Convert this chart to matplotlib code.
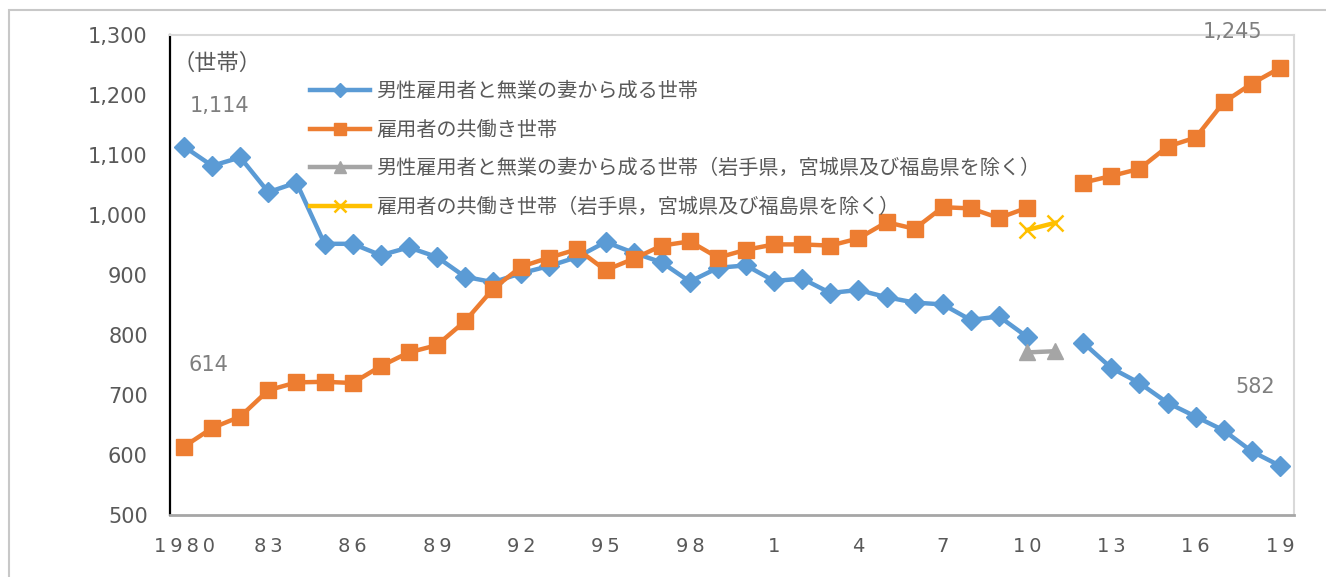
import numpy as np
import matplotlib
matplotlib.use("Agg")
import matplotlib.pyplot as plt
from matplotlib.patches import Rectangle
from matplotlib.ticker import FuncFormatter

plt.rcParams['font.family'] = ['Noto Sans CJK JP', 'DejaVu Sans']

years = list(range(1980, 2020))
nan = np.nan

# 男性雇用者と無業の妻から成る世帯
single_income = [1114, 1082, 1096, 1038, 1054, 952, 952, 933, 946, 930,
                 897, 888, 903, 915, 930, 955, 937, 921, 889, 912,
                 916, 890, 894, 870, 875, 863, 854, 851, 825, 831,
                 797, nan, 787, 745, 720, 687, 664, 641, 606, 582]
# 雇用者の共働き世帯
dual_income = [614, 645, 664, 708, 721, 722, 720, 748, 771, 783,
               823, 877, 914, 929, 943, 908, 927, 949, 956, 929,
               942, 951, 951, 949, 961, 988, 977, 1013, 1011, 995,
               1012, nan, 1054, 1065, 1077, 1114, 1129, 1188, 1219, 1245]
# excluding Iwate, Miyagi, Fukushima (2010, 2011)
excl_years = [2010, 2011]
single_excl = [771, 773]
dual_excl = [975, 987]

legend_labels = [
    "男性雇用者と無業の妻から成る世帯",
    "雇用者の共働き世帯",
    "男性雇用者と無業の妻から成る世帯（岩手県，宮城県及び福島県を除く）",
    "雇用者の共働き世帯（岩手県，宮城県及び福島県を除く）",
]

tick_years = years[::3]


def short_year(y):
    s = "1980" if y == 1980 else str(y % 100)
    return "\u2009".join(s)


W, H = 1326, 577
fig = plt.figure(figsize=(W / 100, H / 100), dpi=100)
fig.patches.append(Rectangle((9 / W, -0.05), 1.1, 1.05 - 10 / H, transform=fig.transFigure,
                             fill=False, edgecolor="#C8C8C8", linewidth=1.5))

ax = fig.add_axes([170 / W, (H - 515) / H, 1124 / W, 480 / H])

idx = {y: i for i, y in enumerate(years)}
x = np.arange(len(years))
xe = [idx[y] for y in excl_years]

blue, orange, grey, yellow = "#5B9BD5", "#ED7D31", "#A5A5A5", "#FFC000"

ax.plot(x, single_income, color=blue, lw=3.2, marker="D", ms=10.5, label=legend_labels[0])
ax.plot(x, dual_income, color=orange, lw=3.2, marker="s", ms=12, label=legend_labels[1])
ax.plot(xe, single_excl, color=grey, lw=3.2, marker="^", ms=12, label=legend_labels[2])
ax.plot(xe, dual_excl, color=yellow, lw=3.2, marker="x", ms=12, mew=1.8, label=legend_labels[3])

ax.set_xlim(-0.5, len(years) - 0.5)
ax.set_ylim(500, 1300)
ax.set_yticks(range(500, 1301, 100))
ax.yaxis.set_major_formatter(FuncFormatter(lambda v, p: f"{int(v):,}"))
ax.set_xticks([idx[y] for y in tick_years])
ax.set_xticklabels([short_year(y) for y in tick_years])
ax.tick_params(axis="y", length=0, pad=16, labelsize=15, labelcolor="#595959")
ax.tick_params(axis="x", length=0, pad=16, labelsize=14, labelcolor="#595959")
for lab in ax.get_xticklabels() + ax.get_yticklabels():
    lab.set_family("DejaVu Sans")

ax.spines["left"].set_color("black")
ax.spines["left"].set_linewidth(1.6)
ax.spines["bottom"].set_color("#A6A6A6")
ax.spines["bottom"].set_linewidth(2)
for s in ("top", "right"):
    ax.spines[s].set_color("#D9D9D9")
    ax.spines[s].set_linewidth(1.5)

ax.text(0.002, 0.94, "（世帯）", transform=ax.transAxes, fontsize=16, color="#595959",
        ha="left", va="center")

label_color = "#7F7F7F"
ax.annotate("1,114", (0, single_income[0]), xytext=(35, 41), textcoords="offset pixels",
            ha="center", va="center", fontsize=15, color=label_color, family="DejaVu Sans")
ax.annotate("614", (0, dual_income[0]), xytext=(24, 82), textcoords="offset pixels",
            ha="center", va="center", fontsize=15, color=label_color, family="DejaVu Sans")
ax.annotate("582", (idx[2019], single_income[-1]), xytext=(-25, 79), textcoords="offset pixels",
            ha="center", va="center", fontsize=15, color=label_color, family="DejaVu Sans")
ax.annotate("1,245", (idx[2019], dual_income[-1]), xytext=(-47, 36), textcoords="offset pixels",
            ha="center", va="center", fontsize=15, color=label_color, family="DejaVu Sans")

leg = fig.legend(loc="upper left", bbox_to_anchor=(310 / W, 1 - 81 / H), frameon=False,
                 fontsize=14.5, handlelength=3, handletextpad=0.3, borderpad=0,
                 labelspacing=0.88, borderaxespad=0, markerscale=0.7)
for t in leg.get_texts():
    t.set_color("#595959")

fig.savefig("out.png", dpi=100)
